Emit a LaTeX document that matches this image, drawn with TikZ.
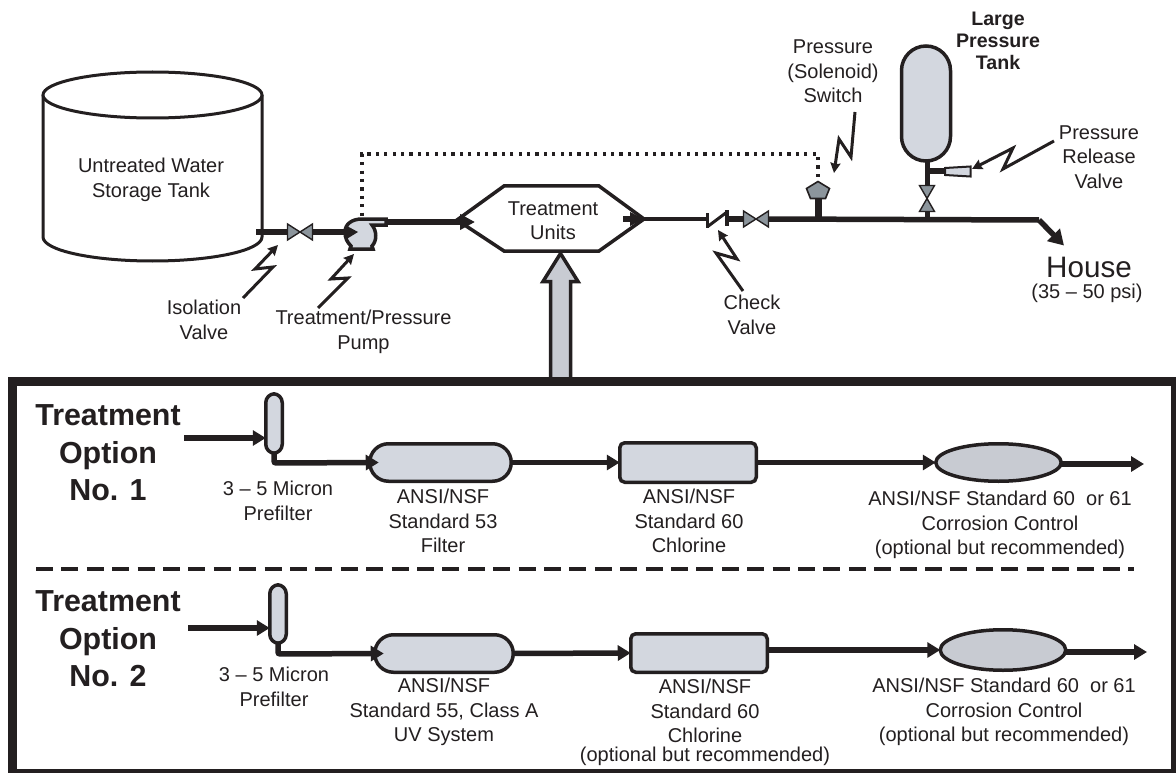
\documentclass[tikz,border=0pt]{standalone}
\usepackage{fontspec}
\setmainfont{Liberation Sans}
\usetikzlibrary{arrows.meta,shapes.geometric,calc}
\definecolor{ink}{HTML}{231F20}
\definecolor{lightgrey}{HTML}{D3D7DF}
\definecolor{midgrey}{HTML}{C8CBD2}
\definecolor{valvegrey}{HTML}{8C959C}
\tikzset{
  x=1pt,y=-1pt,
  lbl/.style={align=center,font=\fontsize{20}{24.4}\selectfont,text=ink,inner sep=0pt},
  optlbl/.style={align=center,font=\fontsize{30.4}{37.5}\selectfont\bfseries,text=ink,inner sep=0pt},
  pipe/.style={draw=ink,line width=5.5pt},
  flow/.style={pipe,-{Triangle[length=13pt,width=15pt]}},
  vessel/.style={draw=ink,line width=3.5pt,fill=lightgrey},
  bolt/.style={draw=ink,line width=3pt,-{Stealth[length=10pt,width=10pt,inset=1pt]},line join=miter},
  valve/.style={draw=ink,line width=1.4pt,fill=valvegrey},
  capsule/.style={vessel,draw,inner sep=0pt,outer sep=0pt},
}
\newcommand{\hvalve}[2]{\draw[valve] (#1-12.5,#2-8) -- (#1+12.5,#2+8) -- (#1+12.5,#2-8) -- (#1-12.5,#2+8) -- cycle;}
\newcommand{\vvalve}[2]{\draw[valve] (#1-7.5,#2-13) -- (#1+7.5,#2+13) -- (#1-7.5,#2+13) -- (#1+7.5,#2-13) -- cycle;}
\begin{document}
\begin{tikzpicture}
\useasboundingbox (0,0) rectangle (1176,773);
% storage tank
\draw[draw=ink,line width=3pt,fill=white] (43,95) -- (43,237) arc[start angle=180,end angle=360,x radius=109.5,y radius=-24] -- (262,95);
\draw[draw=ink,line width=3pt,fill=white] (152.5,95) ellipse [x radius=109.5,y radius=23];
\node[lbl] (tanklbl) at (151,180) {Untreated Water\\Storage Tank};
% coordinates along the main line
\coordinate (tankout) at (256,232);
\coordinate (v1l) at (288,232);
\coordinate (v1r) at (313,232);
\coordinate (pumpin) at (346,232);
\coordinate (pumpout) at (385,222);
\coordinate (hexl) at (475,222);
% main pipe
\draw[pipe] (tankout) -- (v1l);
\draw[pipe] (v1r) -- (pumpin);
% dotted control line
\draw[draw=ink,line width=3.2pt,dash pattern=on 3.2pt off 5.2pt] (818,177) -- (818,154) -- (362,154) -- (362,218);
\draw[flow,-{Triangle[length=15pt,width=15pt]}] (pumpout) -- (hexl);
% pump
\draw[vessel] (345,232) .. controls (345,224) and (352,219) .. (362,219) -- (386,219) -- (386,225) -- (372,225) .. controls (377,231) and (377,241) .. (372,246) -- (373,249) -- (350,249) -- (351,246) .. controls (347,242) and (345,238) .. (345,232) -- cycle;
\fill[ink] (345,225) -- (358,232) -- (345,240) -- cycle;
\hvalve{300}{232}
% treatment hexagon
\node[lbl] (treat) at (553,221) {Treatment\\Units};
\draw[draw=ink,line width=3.5pt] (457,220) -- (504,186) -- (599,186) -- (644,219) -- (599,251) -- (504,251) -- cycle;
\draw[draw=ink,line width=3.5pt,fill=midgrey] (550.5,381) -- (550.5,281.5) -- (543,281.5) -- (560.5,253.5) -- (578,281.5) -- (570.5,281.5) -- (570.5,381);
% right of the hexagon
\coordinate (chk1) at (707,219);
\coordinate (chk2) at (727,219);
\coordinate (v2l) at (743,219);
\coordinate (v2r) at (769,219);
\coordinate (bend) at (1039,220);
\coordinate (houseend) at (1064,245.5);
\draw[draw=ink,line width=4pt] (640,219) -- (chk1);
\draw[flow,-{Triangle[length=14pt,width=13pt]}] (623,219) -- (644,219);
\draw[pipe] (chk2) -- (v2l);
\draw[pipe] (v2r) -- (bend);
\draw[draw=ink,line width=5.5pt,-{Triangle[length=15pt,width=17pt]}] (bend) -- (houseend);
% check valve
\draw[draw=ink,line width=3pt] (707,213) -- (707,228);
\draw[draw=ink,line width=3pt] (707,227) -- (727,212);
\draw[draw=ink,line width=3.2pt] (727,210) -- (727,226);
\hvalve{756}{219}
% pressure switch
\draw[draw=ink,line width=7pt] (818,198) -- (818,220);
\draw[draw=ink,line width=1.6pt,fill=valvegrey] (818,181.5) -- (829.5,188.5) -- (825.5,198.5) -- (810.5,198.5) -- (806.5,188.5) -- cycle;
% large pressure tank
\coordinate (ltbot) at (927,160);
\draw[draw=ink,line width=5pt] (ltbot) -- (927,186);
\draw[draw=ink,line width=5pt] (927,211) -- (927,220);
\draw[draw=ink,line width=6pt] (927,171) -- (946,171);
\draw[draw=ink,line width=2pt,fill=lightgrey] (945,168) -- (970.5,166.5) -- (970.5,176.5) -- (945,175) -- cycle;
\draw[vessel] (901.5,70.5) arc[start angle=180,end angle=0,x radius=24.5,y radius=-24.5] -- (950.5,136.5) arc[start angle=360,end angle=180,x radius=24.5,y radius=-24.5] -- cycle;
\vvalve{927}{198.5}
% bolts
\draw[bolt] (243,298) -- (273,267) -- (255,269) -- (278,245);
\draw[bolt] (318,308) -- (348,278) -- (331,279) -- (354,254);
\draw[bolt] (855,112) -- (851,157) -- (839,139) -- (834,173);
\draw[bolt] (1054,141) -- (1003,169) -- (1013,148) -- (972,169);
\draw[bolt] (743,291) -- (716,253) -- (737,259) -- (718,230);
% upper labels
\node[lbl] (iso) at (204,320) {Isolation\\Valve};
\node[lbl] (pmp) at (363.5,332) {Treatment/Pressure\\Pump};
\node[lbl] (chk) at (752,315) {Check\\Valve};
\node[lbl] (psw) at (833,71.5) {Pressure\\(Solenoid)\\Switch};
\node[lbl,font=\fontsize{19.6}{22}\selectfont\bfseries] (lpt) at (998,40.5) {Large\\Pressure\\Tank};
\node[lbl] (prv) at (1099,157) {Pressure\\Release\\Valve};
\node[lbl,font=\fontsize{29.6}{32}\selectfont] (house) at (1089,267) {House};
\node[lbl] (psi) at (1087,293) {(35 – 50 psi)};
% big frame
\draw[draw=ink,line width=9pt] (12,381) rectangle (1175,773.5);
\draw[draw=ink,line width=3.5pt,dash pattern=on 17pt off 8.4pt] (36,569) -- (1134,569);
\node[optlbl] (o1) at (108,453) {Treatment\\Option\\No. 1};
\node[optlbl] (o2) at (108,639) {Treatment\\Option\\No. 2};
% option 1
\node[capsule,rounded corners=9pt,minimum width=16.5pt,minimum height=59.5pt] (pf1) at (274,423.5) {};
\node[capsule,rounded corners=18.7pt,minimum width=141.5pt,minimum height=37.5pt] (f1) at (440.5,462.5) {};
\node[capsule,rounded corners=5pt,minimum width=136.5pt,minimum height=39.5pt] (cl1) at (688,462.5) {};
\node[capsule,fill=midgrey,ellipse,minimum width=125.5pt,minimum height=37.5pt] (cc1) at (998.5,462.5) {};
\coordinate (in1) at (184,438);
\coordinate (end1) at (1144,464);
\draw[flow] (in1) -- (pf1.west|-in1);
\draw[pipe,rounded corners=2pt,-{Triangle[length=13pt,width=15pt]}] (pf1.south) -- (274,463) -- ([xshift=9pt]f1.west);
\draw[flow] (f1.east) -- (cl1.west);
\draw[flow] (cl1.east) -- (cc1.west);
\draw[flow] (cc1.east|-end1) -- (end1);
\node[lbl] (t11) at (278,501) {3 – 5 Micron\\Prefilter};
\node[lbl] (t12) at (443,521) {ANSI/NSF\\Standard 53\\Filter};
\node[lbl] (t13) at (689,521) {ANSI/NSF\\Standard 60\\Chlorine};
\node[lbl] (t14) at (1000,525) {ANSI/NSF Standard 60~ or 61\\Corrosion Control\\(optional but recommended)};
% option 2
\node[capsule,rounded corners=9pt,minimum width=16.5pt,minimum height=58.5pt] (pf2) at (278,614) {};
\node[capsule,rounded corners=18.7pt,minimum width=138.5pt,minimum height=37.5pt] (f2) at (444,653.5) {};
\node[capsule,rounded corners=5pt,minimum width=136.5pt,minimum height=38.5pt] (cl2) at (699,653) {};
\node[capsule,fill=midgrey,ellipse,minimum width=125.5pt,minimum height=40.5pt] (cc2) at (1003,650) {};
\coordinate (in2) at (188,628);
\coordinate (end2) at (1147,652);
\draw[flow] (in2) -- (pf2.west|-in2);
\draw[pipe,rounded corners=2pt,-{Triangle[length=13pt,width=15pt]}] (pf2.south) -- (278,654) -- ([xshift=9pt]f2.west);
\draw[flow] (f2.east) -- (cl2.west);
\draw[flow] (cl2.east|-cc2) -- (cc2.west);
\draw[flow] (cc2.east|-end2) -- (end2);
\node[lbl] (t21) at (274,687) {3 – 5 Micron\\Prefilter};
\node[lbl] (t22) at (444,712) {ANSI/NSF\\Standard 55, Class A\\UV System};
\node[lbl] (t23) at (705,711) {ANSI/NSF\\Standard 60\\Chlorine};
\node[lbl] (t23b) at (705,756) {(optional but recommended)};
\node[lbl] (t24) at (1004,712) {ANSI/NSF Standard 60~ or 61\\Corrosion Control\\(optional but recommended)};
\end{tikzpicture}
\end{document}
